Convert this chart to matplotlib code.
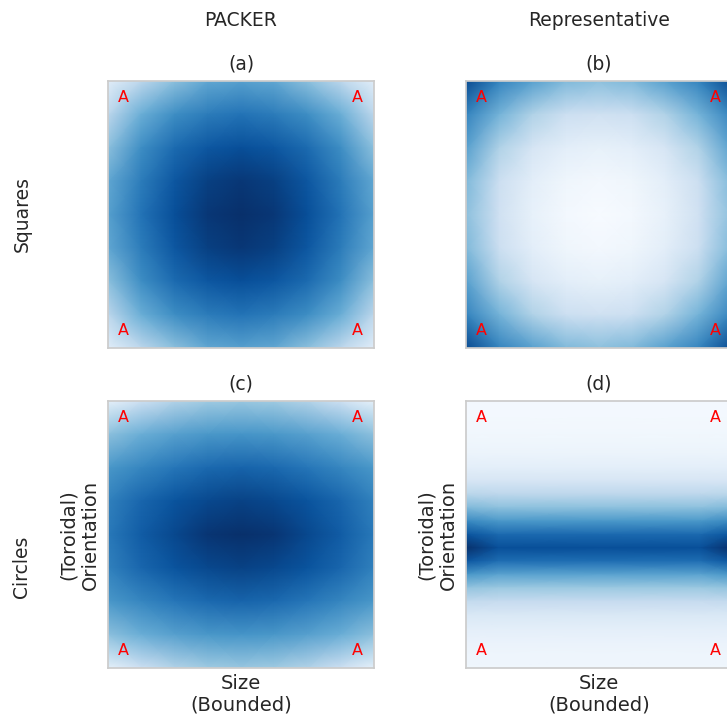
import numpy as np
import matplotlib
matplotlib.use('Agg')
import matplotlib.pyplot as plt
import seaborn as sns

grid_pos = [0.0, 0.125, 0.25, 0.375, 0.5, 0.625, 0.75, 0.875, 1.0]

packer_squares_top = [
    [0.10, 0.28, 0.42, 0.53, 0.56, 0.53, 0.42, 0.28, 0.10],
    [0.28, 0.50, 0.64, 0.71, 0.74, 0.71, 0.64, 0.50, 0.28],
    [0.42, 0.64, 0.77, 0.85, 0.88, 0.85, 0.77, 0.64, 0.42],
    [0.53, 0.71, 0.85, 0.94, 0.97, 0.94, 0.85, 0.71, 0.53],
    [0.56, 0.74, 0.88, 0.97, 1.00, 0.97, 0.88, 0.74, 0.56],
]
repr_squares_top = [
    [0.90, 0.68, 0.56, 0.45, 0.42, 0.45, 0.56, 0.68, 0.90],
    [0.68, 0.48, 0.32, 0.22, 0.20, 0.22, 0.32, 0.48, 0.68],
    [0.56, 0.32, 0.17, 0.10, 0.08, 0.10, 0.17, 0.32, 0.56],
    [0.45, 0.22, 0.10, 0.04, 0.02, 0.04, 0.10, 0.22, 0.45],
    [0.42, 0.20, 0.08, 0.02, 0.00, 0.02, 0.08, 0.20, 0.42],
]
packer_circles_top = [
    [0.08, 0.21, 0.31, 0.37, 0.39, 0.37, 0.31, 0.21, 0.08],
    [0.42, 0.50, 0.56, 0.60, 0.61, 0.60, 0.56, 0.50, 0.42],
    [0.60, 0.67, 0.73, 0.78, 0.80, 0.78, 0.73, 0.67, 0.60],
    [0.69, 0.79, 0.86, 0.91, 0.93, 0.91, 0.86, 0.79, 0.69],
    [0.72, 0.83, 0.91, 0.98, 1.00, 0.98, 0.91, 0.83, 0.72],
]

# representative circles: nearly constant along size, band in orientation
circ_rows = [0.0, 0.05, 0.10, 0.15, 0.20, 0.25, 0.30, 0.35, 0.40, 0.45, 0.50,
             0.55, 0.60, 0.65, 0.70, 0.75, 0.80, 0.85, 0.90, 0.95, 1.0]
circ_cols = [0.0, 0.12, 0.5, 0.88, 1.0]
repr_circ_mid = [0.02, 0.02, 0.03, 0.04, 0.06, 0.10, 0.17, 0.28, 0.42, 0.60, 0.78,
                 0.88, 0.76, 0.55, 0.38, 0.25, 0.15, 0.10, 0.07, 0.05, 0.04]
repr_circ_edge = [0.02, 0.02, 0.03, 0.04, 0.06, 0.10, 0.17, 0.29, 0.45, 0.66, 0.86,
                  1.00, 0.85, 0.60, 0.40, 0.26, 0.15, 0.10, 0.07, 0.05, 0.04]

col_titles = ['PACKER', 'Representative']
row_titles = ['Squares', 'Circles']
panel_tags = ['(a)', '(b)', '(c)', '(d)']


def mirror(top):
    top = np.array(top)
    return np.vstack([top, top[-2::-1]])


sns.set_style('whitegrid')
plt.rcParams['font.family'] = ['DejaVu Sans']
txt_col = '.15'

W, H = 727.0, 719.0
fig = plt.figure(figsize=(W / 100, H / 100), dpi=100)


def add_ax(x0, y0):
    return fig.add_axes([x0 / W, 1 - (y0 + 267) / H, 266 / W, 267 / H])


def draw_map(ax, xs, ys, vals, tag):
    X, Y = np.meshgrid(xs, ys)
    ax.pcolormesh(X, Y, vals, cmap='Blues', vmin=0, vmax=1, shading='gouraud')
    ax.set_xlim(0, 1)
    ax.set_ylim(1, 0)
    ax.set_xticks([])
    ax.set_yticks([])
    ax.grid(False)
    for s in ax.spines.values():
        s.set_color('#cccccc')
        s.set_linewidth(1.25)
    for (x, y) in [(0.057, 0.94), (0.936, 0.94), (0.057, 0.064), (0.936, 0.064)]:
        ax.text(x, y, 'A', color='red', fontsize=11.5, ha='center', va='center',
                transform=ax.transAxes)
    ax.set_title(tag, fontsize=13.5, color=txt_col, pad=8)


ax_a = add_ax(108, 81)
ax_b = add_ax(466, 81)
ax_c = add_ax(108, 401)
ax_d = add_ax(466, 401)

draw_map(ax_a, grid_pos, grid_pos, mirror(packer_squares_top), panel_tags[0])
draw_map(ax_b, grid_pos, grid_pos, mirror(repr_squares_top), panel_tags[1])
draw_map(ax_c, grid_pos, grid_pos, mirror(packer_circles_top), panel_tags[2])
d_vals = np.column_stack([repr_circ_edge, repr_circ_mid, repr_circ_mid,
                          repr_circ_mid, repr_circ_edge])
draw_map(ax_d, circ_cols, circ_rows, d_vals, panel_tags[3])

for ax in [ax_c, ax_d]:
    ax.set_xlabel('Size\n(Bounded)', fontsize=14, color=txt_col, labelpad=4)
    ax.set_ylabel('(Toroidal)\nOrientation', fontsize=14, color=txt_col, labelpad=6)

fig.text(241 / W, 1 - 20 / H, col_titles[0], ha='center', va='center',
         fontsize=13.5, color=txt_col)
fig.text(599 / W, 1 - 20 / H, col_titles[1], ha='center', va='center',
         fontsize=13.5, color=txt_col)
fig.text(22 / W, 1 - 214 / H, row_titles[0], ha='center', va='center',
         rotation=90, fontsize=13.5, color=txt_col)
fig.text(22 / W, 1 - 567 / H, row_titles[1], ha='center', va='center',
         rotation=90, fontsize=13.5, color=txt_col)

fig.savefig('out.png', dpi=100)
